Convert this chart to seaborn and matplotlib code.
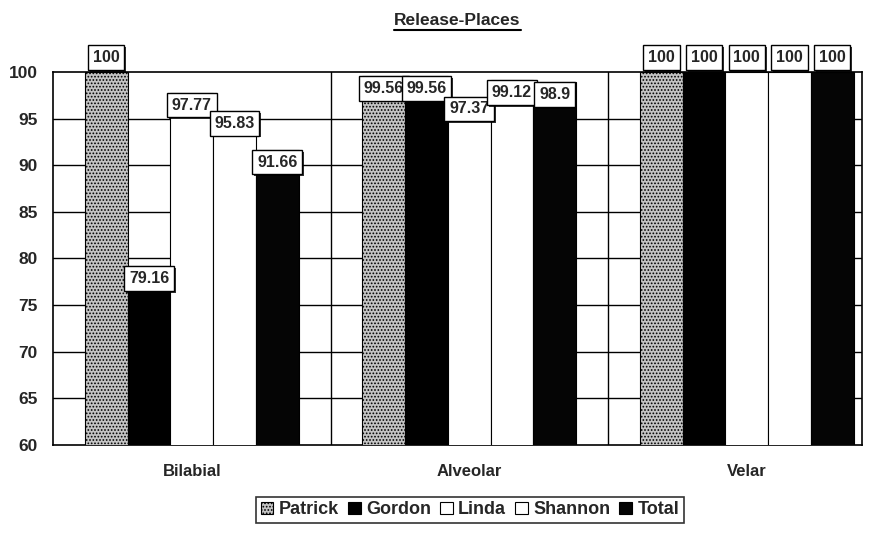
import numpy as np
import pandas as pd
import seaborn as sns
from matplotlib import pyplot as plt
from matplotlib.patches import Patch
from matplotlib import patheffects

# values
places = ["Bilabial", "Alveolar", "Velar"]
speakers = ["Patrick", "Gordon", "Linda", "Shannon", "Total"]
patrick = [100, 99.56, 100]
gordon = [79.16, 99.56, 100]
linda = [97.77, 97.37, 100]
shannon = [95.83, 99.12, 100]
total = [91.66, 98.9, 100]

sns.set_style("white")
plt.rcParams["font.family"] = ["Liberation Sans", "DejaVu Sans"]
plt.rcParams["font.weight"] = "bold"
plt.rcParams["hatch.color"] = "#8c8c8c"
plt.rcParams["hatch.linewidth"] = 0.8

# long table for seaborn
rows = []
for name, vals in zip(speakers, [patrick, gordon, linda, shannon, total]):
    for place, v in zip(places, vals):
        rows.append({"place": place, "speaker": name, "value": v})
df = pd.DataFrame(rows)

colors = {"Patrick": "#c4c4c4", "Gordon": "#000000", "Linda": "#ffffff",
          "Shannon": "#ffffff", "Total": "#050505"}

fig = plt.figure(figsize=(8.81, 5.34), dpi=100)
ax = fig.add_axes([53 / 881, 89 / 534, (862 - 53) / 881, (445 - 72) / 534])

sns.barplot(data=df, x="place", y="value", hue="speaker", order=places,
            hue_order=speakers, palette=colors, width=0.77, saturation=1,
            edgecolor="black", linewidth=0.8, ax=ax, legend=False, zorder=3)

# stipple on Patrick bars
for bar in ax.containers[0]:
    bar.set_hatch(".....")

ax.set_ylim(60, 100)
ax.set_yticks(np.arange(60, 101, 5))
ax.set_xlim(-0.5, 2.415)
ax.set_xlabel("")
ax.set_ylabel("")
ax.tick_params(axis="y", length=0, labelsize=12.5, pad=11)
ax.tick_params(axis="x", length=0, labelsize=12, pad=14)
for lab in ax.get_xticklabels() + ax.get_yticklabels():
    lab.set_fontweight("bold")

# grid
for y in np.arange(65, 100, 5):
    ax.axhline(y, color="black", lw=1, zorder=1)
for x in [0.5, 1.5]:
    ax.axvline(x, color="black", lw=1, zorder=1)
for s in ax.spines.values():
    s.set_color("black")
    s.set_linewidth(1.2)

# value boxes: hang over the bar end, the 100s sit above the frame
shadow = [patheffects.SimplePatchShadow(offset=(1.2, -1.2), shadow_rgbFace="black", alpha=0.8),
          patheffects.Normal()]
for cont in ax.containers:
    for bar in cont:
        h = bar.get_height()
        if h >= 100:
            va, dy = "bottom", 5
        else:
            va, dy = "top", -3.5
        ann = ax.annotate(f"{h:g}", (bar.get_x() + bar.get_width() / 2, h),
                          xytext=(0, dy), textcoords="offset points",
                          ha="center", va=va, fontsize=11.5, fontweight="bold",
                          bbox=dict(boxstyle="square,pad=0.3", fc="white", ec="black", lw=1),
                          annotation_clip=False, zorder=5)
        ann.get_bbox_patch().set_path_effects(shadow)

ax.set_title("Release-Places", fontsize=12.5, fontweight="bold", pad=34)
t = ax.title
fig.canvas.draw()
bb = t.get_window_extent()
inv = fig.transFigure.inverted()
(x0, y0), (x1, y1) = inv.transform([(bb.x0, bb.y0), (bb.x1, bb.y1)])
fig.add_artist(plt.Line2D([x0, x1], [y0 - 0.004, y0 - 0.004], color="black", lw=1.5))

# legend
handles = []
for name in speakers:
    p = Patch(facecolor=colors[name], edgecolor="black", lw=0.8,
              hatch="....." if name == "Patrick" else None)
    handles.append(p)
leg = fig.legend(handles, speakers, loc="lower center", bbox_to_anchor=(470 / 881, 0.004),
                 ncol=5, frameon=True, fancybox=False, handlelength=0.7,
                 handleheight=0.7, handletextpad=0.3, columnspacing=0.5,
                 borderpad=0.25, prop={"weight": "bold", "size": 13})
leg.get_frame().set_edgecolor("black")
leg.get_frame().set_linewidth(1.2)

fig.savefig("out.png", dpi=100)
